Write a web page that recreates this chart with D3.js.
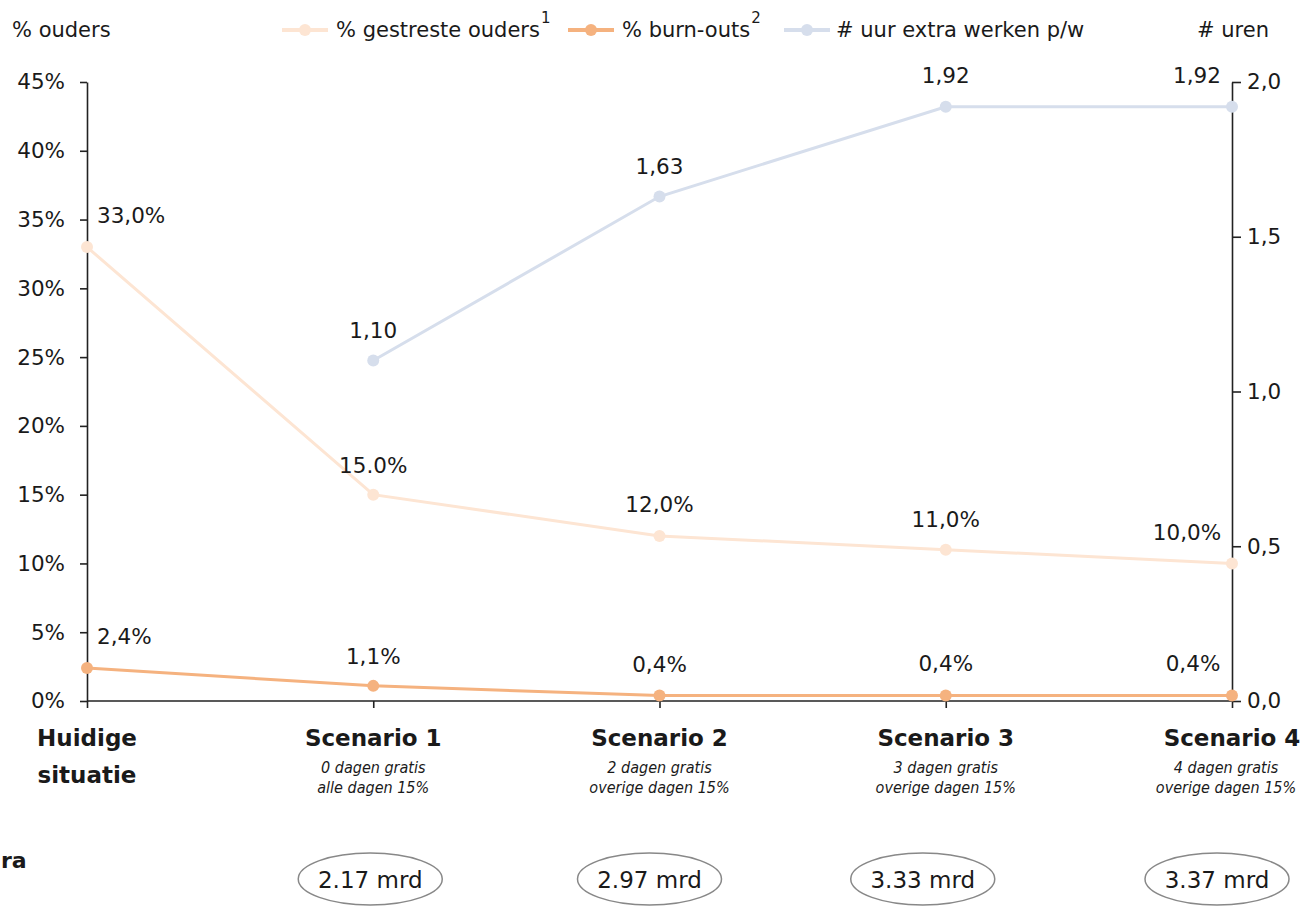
<!DOCTYPE html>
<html>
<head>
<meta charset="utf-8">
<script src="https://cdn.jsdelivr.net/npm/d3@7"></script>
<style>
  body { margin: 0; background: #fff; }
  text { fill: #1a1a1a; }
</style>
</head>
<body>
<div id="chart"></div>
<script>
var categories = ["Huidige situatie", "Scenario 1", "Scenario 2", "Scenario 3", "Scenario 4"];
var subtitles = [[], ["0 dagen gratis", "alle dagen 15%"], ["2 dagen gratis", "overige dagen 15%"],
                 ["3 dagen gratis", "overige dagen 15%"], ["4 dagen gratis", "overige dagen 15%"]];
var stressed = [33.0, 15.0, 12.0, 11.0, 10.0];
var stressedLabels = ["33,0%", "15.0%", "12,0%", "11,0%", "10,0%"];
var burnouts = [2.4, 1.1, 0.4, 0.4, 0.4];
var burnoutLabels = ["2,4%", "1,1%", "0,4%", "0,4%", "0,4%"];
var hours = [null, 1.10, 1.63, 1.92, 1.92];
var hourLabels = ["", "1,10", "1,63", "1,92", "1,92"];
var costs = [null, "2.17 mrd", "2.97 mrd", "3.33 mrd", "3.37 mrd"];
var leftTicks = [0, 5, 10, 15, 20, 25, 30, 35, 40, 45];
var rightTicks = [0, 0.5, 1.0, 1.5, 2.0];

var W = 1303, H = 907;
var svg = d3.select("#chart").append("svg").attr("width", W).attr("height", H);

var x = d3.scalePoint().domain(categories).range([87, 1232]);
var yL = d3.scaleLinear().domain([0, 45]).range([701, 82]);
var yR = d3.scaleLinear().domain([0, 2]).range([701, 82]);

var font = "'DejaVu Sans', sans-serif";
var condFont = "'DejaVu Sans Condensed', 'DejaVu Sans', sans-serif";

// left axis
var gl = svg.append("g").attr("transform", "translate(87,0)")
  .call(d3.axisLeft(yL).tickValues(leftTicks).tickFormat(function(d) { return d + "%"; }).tickSize(7).tickSizeOuter(0).tickPadding(15));
// right axis
var gr = svg.append("g").attr("transform", "translate(1232,0)")
  .call(d3.axisRight(yR).tickValues(rightTicks).tickFormat(function(d) { return d3.format(".1f")(d).replace(".", ","); }).tickSize(9).tickSizeOuter(0).tickPadding(6));
// x axis
var gx = svg.append("g").attr("transform", "translate(0,701)")
  .call(d3.axisBottom(x).tickSize(7).tickSizeOuter(0).tickFormat(""));

[gl, gr, gx].forEach(function(g) {
  g.select(".domain").attr("stroke", "#222").attr("stroke-width", 1.6);
  g.selectAll(".tick line").attr("stroke", "#222").attr("stroke-width", 1.6);
  g.selectAll(".tick text").style("font-family", font).style("font-size", "21.5px").attr("fill", "#222");
});
gx.select(".domain").attr("d", "M87,0H1232");

// series
function drawSeries(vals, scale, color, width) {
  var pts = categories.map(function(c, i) { return {c: c, v: vals[i]}; }).filter(function(d) { return d.v != null; });
  svg.append("path").datum(pts)
    .attr("fill", "none").attr("stroke", color).attr("stroke-width", width)
    .attr("d", d3.line().x(function(d) { return x(d.c); }).y(function(d) { return scale(d.v); }));
  svg.selectAll(null).data(pts).enter().append("circle")
    .attr("cx", function(d) { return x(d.c); }).attr("cy", function(d) { return scale(d.v); })
    .attr("r", 6).attr("fill", color);
}
drawSeries(stressed, yL, "#fde5d3", 3);
drawSeries(hours, yR, "#d6deec", 3);
drawSeries(burnouts, yL, "#f5b27f", 3);

// data labels
function labels(vals, lbls, scale, dy, firstStart, lastShift) {
  categories.forEach(function(c, i) {
    if (vals[i] == null) return;
    var px = x(c), anchor = "middle";
    if (i === 0 && firstStart) { px = px + 10; anchor = "start"; }
    if (i === categories.length - 1) px = px + lastShift;
    svg.append("text").attr("x", px).attr("y", scale(vals[i]) + dy[i])
      .attr("text-anchor", anchor)
      .style("font-family", font).style("font-size", "21.5px")
      .text(lbls[i]);
  });
}
labels(stressed, stressedLabels, yL, [-24, -22, -24, -23, -23], true, -45);
labels(burnouts, burnoutLabels, yL, [-24, -22, -23, -24, -24], true, -39);
labels(hours, hourLabels, yR, [0, -23, -23, -24, -24], false, -35);

// category labels
categories.forEach(function(c, i) {
  var cx = x(c);
  var t = svg.append("text").attr("x", cx).attr("y", 746).attr("text-anchor", "middle")
    .style("font-family", font).style("font-weight", "bold").style("font-size", "23px");
  if (i === 0) {
    t.append("tspan").attr("x", cx).text("Huidige");
    t.append("tspan").attr("x", cx).attr("dy", 37).text("situatie");
  } else {
    t.text(c);
  }
  var sx = i === categories.length - 1 ? cx - 6 : cx;
  subtitles[i].forEach(function(s, j) {
    svg.append("text").attr("x", sx).attr("y", 773 + j * 20).attr("text-anchor", "middle")
      .style("font-family", condFont).style("font-stretch", "condensed").style("font-style", "italic").style("font-size", "16px")
      .attr("fill", "#333").text(s);
  });
});

// costs row
var costShift = [0, -3, -10, -23, -15];
svg.append("text").attr("x", 1).attr("y", 868)
  .style("font-family", font).style("font-weight", "bold").style("font-size", "22px").text("ra");
costs.forEach(function(cst, i) {
  if (cst == null) return;
  var cx = x(categories[i]) + costShift[i];
  svg.append("ellipse").attr("cx", cx).attr("cy", 879).attr("rx", 72).attr("ry", 26)
    .attr("fill", "none").attr("stroke", "#888").attr("stroke-width", 1.5);
  svg.append("text").attr("x", cx).attr("y", 888).attr("text-anchor", "middle")
    .style("font-family", font).style("font-size", "23px").text(cst);
});

// axis titles
svg.append("text").attr("x", 12).attr("y", 37).style("font-family", font).style("font-size", "21px").text("% ouders");
svg.append("text").attr("x", 1197).attr("y", 37).style("font-family", font).style("font-size", "21px").text("# uren");

// legend
var legend = [
  {name: "% gestreste ouders", sup: "1", color: "#fde5d3", x0: 282, tx: 336},
  {name: "% burn-outs", sup: "2", color: "#f5b27f", x0: 568, tx: 622},
  {name: "# uur extra werken p/w", sup: "", color: "#d6deec", x0: 784, tx: 836}
];
legend.forEach(function(l) {
  svg.append("line").attr("x1", l.x0).attr("x2", l.x0 + 46).attr("y1", 30).attr("y2", 30)
    .attr("stroke", l.color).attr("stroke-width", 4);
  svg.append("circle").attr("cx", l.x0 + 23).attr("cy", 30).attr("r", 6).attr("fill", l.color);
  var t = svg.append("text").attr("x", l.tx).attr("y", 37).style("font-family", font).style("font-size", "21px").text(l.name);
  if (l.sup) t.append("tspan").attr("dy", -14).attr("dx", 1).style("font-size", "15px").text(l.sup);
});
</script>
</body>
</html>
